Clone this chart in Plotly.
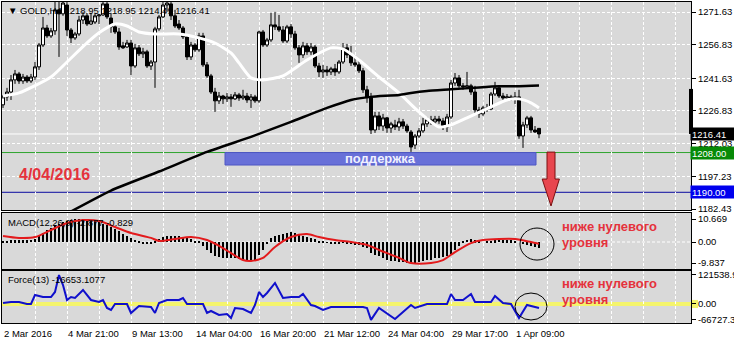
import plotly.graph_objects as go

# ---------------- data ----------------
bar_index = list(range(135))
opens = [1229.6,1233.2,1235.4,1240.9,1243.6,1240.4,1242.2,1240.4,1242.2,1246.8,
1256.7,1264.4,1260.8,1263.1,1272.6,1270.8,1274.8,1263.5,1259.9,1261.7,
1268.0,1269.9,1266.2,1267.1,1269.9,1270.3,1275.3,1268.9,1264.9,1262.6,
1256.3,1255.8,1257.6,1247.2,1255.4,1252.7,1253.6,1247.2,1249.0,1264.0,
1269.4,1274.8,1275.3,1269.9,1266.2,1264.4,1260.4,1251.3,1256.7,1254.5,
1260.8,1247.7,1242.7,1235.4,1231.4,1233.6,1232.3,1233.2,1232.3,1234.1,
1232.7,1233.6,1231.8,1233.2,1231.4,1262.6,1256.7,1259.0,1265.8,1264.9,
1263.5,1258.5,1264.9,1261.7,1255.4,1252.2,1256.3,1253.6,1255.8,1247.2,
1244.5,1245.4,1244.5,1245.9,1244.5,1249.0,1255.4,1252.2,1248.6,1247.7,
1245.0,1236.4,1233.2,1218.2,1224.6,1220.0,1223.7,1219.1,1220.5,1219.6,
1221.9,1220.0,1217.3,1211.4,1215.5,1217.8,1221.0,1222.8,1221.9,1223.2,
1222.3,1219.6,1224.1,1239.5,1241.8,1238.2,1237.7,1238.2,1235.4,1227.3,
1225.5,1228.2,1227.7,1234.5,1237.3,1233.6,1232.7,1233.2,1232.3,1233.2,
1215.5,1220.5,1223.7,1218.2,1218.95]
highs = [1234.1,1237.3,1243.1,1245.4,1244.5,1243.6,1243.1,1243.6,1249.0,1257.6,
1269.4,1265.8,1264.4,1277.1,1276.2,1277.1,1276.2,1264.4,1262.6,1269.9,
1271.7,1270.8,1271.2,1270.8,1270.8,1276.6,1277.1,1270.8,1265.8,1264.4,
1258.1,1259.0,1259.0,1257.2,1256.7,1255.4,1254.5,1249.9,1264.9,1270.3,
1276.2,1277.1,1276.6,1272.6,1268.0,1265.3,1261.3,1258.1,1257.6,1262.2,
1262.2,1249.0,1243.6,1237.3,1235.4,1234.1,1235.0,1234.5,1235.4,1235.0,
1236.4,1235.0,1234.5,1234.1,1263.1,1263.5,1259.9,1271.2,1271.7,1270.3,
1265.3,1265.8,1266.2,1263.1,1256.7,1258.1,1257.6,1257.6,1256.7,1248.6,
1247.7,1247.2,1246.8,1248.1,1249.9,1257.6,1257.2,1256.3,1250.8,1249.9,
1246.3,1238.2,1235.0,1226.4,1226.4,1225.5,1224.1,1221.9,1222.8,1223.7,
1223.2,1221.0,1218.2,1216.4,1219.1,1223.7,1224.1,1224.6,1224.6,1224.6,
1223.7,1225.5,1240.9,1244.0,1243.1,1239.5,1244.5,1239.1,1238.2,1228.7,
1229.1,1230.0,1235.4,1240.0,1238.2,1235.0,1234.5,1234.1,1235.4,1236.4,
1221.9,1224.6,1224.6,1220.0,1218.95]
lows = [1228.2,1231.4,1231.8,1239.1,1239.1,1239.1,1239.5,1239.5,1240.9,1245.4,
1255.8,1259.9,1259.9,1261.3,1251.3,1269.9,1260.8,1257.6,1259.0,1260.8,
1266.2,1265.3,1265.8,1266.2,1266.2,1269.9,1268.5,1262.2,1261.7,1254.5,
1254.9,1255.4,1243.1,1246.3,1251.7,1250.8,1246.3,1245.4,1237.3,1263.1,
1268.9,1271.7,1268.0,1264.4,1263.5,1259.4,1249.9,1249.9,1253.6,1253.6,
1246.8,1241.8,1234.5,1226.4,1230.0,1230.0,1230.9,1228.7,1231.8,1231.4,
1231.8,1230.5,1228.2,1230.5,1230.5,1255.8,1255.8,1258.1,1263.5,1262.6,
1257.6,1257.6,1259.9,1254.5,1248.6,1250.8,1252.2,1252.2,1246.3,1242.2,
1241.8,1242.7,1243.1,1242.7,1243.6,1248.1,1250.8,1247.2,1246.8,1244.0,
1235.0,1230.5,1216.4,1216.9,1218.2,1217.8,1216.9,1216.9,1218.2,1217.8,
1218.7,1216.9,1208.3,1209.6,1214.6,1216.9,1219.6,1220.5,1220.5,1221.0,
1218.2,1217.3,1223.2,1238.2,1237.3,1236.4,1236.8,1234.1,1225.9,1223.7,
1224.6,1226.4,1227.3,1233.6,1232.7,1231.8,1231.4,1231.4,1230.0,1214.2,
1210.1,1219.1,1216.9,1216.9,1214.49]
closes = [1233.2,1235.4,1240.9,1243.6,1240.4,1242.2,1240.4,1242.2,1246.8,1256.7,
1264.4,1260.8,1263.1,1272.6,1270.8,1275.7,1263.5,1259.9,1261.7,1268.0,
1269.9,1266.2,1267.6,1269.9,1270.3,1275.3,1269.4,1264.9,1262.6,1255.8,
1255.4,1257.6,1247.2,1255.4,1252.7,1253.6,1247.2,1249.0,1264.0,1269.4,
1274.8,1275.7,1269.9,1265.3,1264.4,1260.4,1251.3,1256.7,1254.5,1260.8,
1247.7,1242.7,1235.4,1231.4,1233.6,1232.3,1233.2,1232.3,1234.1,1232.7,
1233.6,1231.8,1233.2,1231.4,1262.6,1256.7,1259.0,1265.8,1264.9,1263.5,
1258.5,1264.9,1261.7,1255.4,1252.2,1256.3,1253.6,1255.8,1247.2,1244.5,
1245.4,1244.5,1245.9,1244.5,1249.0,1255.4,1252.2,1248.6,1247.7,1245.0,
1236.4,1233.2,1218.2,1224.6,1220.0,1223.7,1219.1,1221.0,1219.6,1221.9,
1220.0,1217.8,1210.5,1215.5,1217.8,1221.0,1222.8,1221.9,1223.2,1222.3,
1219.6,1224.1,1239.5,1241.8,1238.2,1237.7,1238.2,1235.4,1227.3,1225.5,
1228.2,1227.7,1234.5,1237.3,1233.6,1232.7,1233.2,1232.3,1233.2,1215.5,
1220.5,1223.7,1218.2,1217.3,1216.41]

white_ma_idx = [0, 4, 12, 16, 21, 24, 28, 31, 34, 38, 44, 49, 53, 57, 59, 62, 65, 70, 76, 82, 85, 89, 94, 99, 104, 109, 112, 116, 122, 126, 129, 132, 134]
white_ma_val = [1233.6, 1235.0, 1242.2, 1249.0, 1257.6, 1262.2, 1266.2, 1265.3, 1262.6, 1261.7, 1261.7, 1259.9, 1257.6, 1253.1, 1248.6, 1241.8, 1240.9, 1242.7, 1249.9, 1255.4, 1254.9, 1249.9, 1242.2, 1235.0, 1226.4, 1219.6, 1220.5, 1223.7, 1228.7, 1231.8, 1232.3, 1230.5, 1228.2]

black_ma_idx = [0, 18, 27, 39, 51, 62, 72, 81, 87, 92, 99, 102, 106, 112, 119, 124, 129, 134]
black_ma_val = [1164.3, 1182.3, 1190.8, 1199.4, 1208.3, 1215.1, 1221.9, 1228.2, 1231.8, 1233.2, 1234.1, 1235.0, 1235.9, 1236.6, 1237.5, 1238.0, 1238.0, 1238.3]

macd_hist = [0.5,0.7,0.9,0.9,0.9,0.9,0.9,1.1,1.4,2.8,
4.2,5.6,6.7,7.7,8.6,9.3,9.9,10.2,10.5,10.6,
10.669,10.6,10.2,9.8,9.3,8.6,7.7,7.0,6.0,4.9,
3.9,2.8,1.9,1.1,0.5,-0.5,-0.9,-0.7,0.2,1.4,
2.3,2.8,2.8,2.8,2.6,2.1,1.7,1.2,0.7,0.2,
-1.9,-3.5,-5.1,-6.3,-7.0,-7.3,-7.4,-7.4,-7.6,-7.9,
-8.4,-8.4,-8.6,-8.4,-6.0,-3.7,-0.9,1.9,2.8,3.3,
3.7,4.2,4.7,4.2,3.5,2.8,2.3,1.9,1.4,0.7,
0.3,-0.3,-0.5,-0.5,-0.5,-0.3,-0.7,-0.9,-1.2,-1.4,
-2.3,-2.8,-5.1,-6.0,-6.3,-7.4,-8.4,-8.6,-8.9,-9.3,
-9.5,-9.6,-9.837,-9.7,-9.3,-8.8,-8.4,-8.2,-7.6,-7.3,
-7.0,-6.5,-5.6,-3.7,-1.9,0.5,1.1,1.4,0.9,0.3,
0.0,0.3,0.5,0.9,1.1,0.9,0.9,0.9,0.7,0.0,
-0.7,-1.4,-1.9,-2.3,-2.877]

signal_idx = [0, 4, 8, 12, 16, 20, 24, 28, 32, 37, 39, 43, 47, 51, 55, 60, 62, 65, 68, 72, 76, 79, 83, 87, 91, 94, 99, 102, 107, 110, 113, 117, 120, 124, 128, 132, 134]
signal_val = [2.8, 1.9, 2.3, 5.6, 8.8, 10.2, 9.8, 7.0, 4.2, 1.9, 0.5, 1.4, 2.3, 0.9, -2.8, -8.4, -8.8, -7.4, -2.3, 2.3, 3.7, 2.3, 0.9, 0.0, -1.4, -3.7, -7.4, -9.8, -9.8, -8.4, -4.7, -0.5, 0.9, 1.4, 1.4, 0.0, -0.829]

force_idx = [0,2,4,6,7,8,10,12,13,14,15,16,17,18,20,22,24,25,26,27,28,31,32,34,37,38,39,41,44,45,46,50,51,52,54,56,57,58,60,62,63,64,65,66,68,70,72,74,75,77,78,80,82,85,88,90,91,92,94,95,98,100,102,103,105,106,111,112,113,115,117,118,120,122,123,125,127,129,131,132,134]
force_val = [4191,8400,8400,0,0,37700,29300,29300,50300,121538.9,79600,16800,29300,25100,58700,16800,8400,16800,-16800,-25100,0,0,-37700,-8400,-12600,-37700,4200,16800,16800,25100,0,0,-37700,-29300,-46100,-41900,-58700,-16800,-21000,-37700,-4200,50300,29300,46100,88000,25100,29300,29300,41900,-4200,-8400,-25100,-12600,-12600,-12600,-12600,-16800,-66727.34,-16800,-29300,-62900,-33500,-4200,-16800,-4200,0,0,41900,16800,16800,41900,8400,8400,8400,33500,4200,0,-58700,-4200,-8400,-16653.1077]

price_ticks = [1271.63, 1256.83, 1241.63, 1226.83, 1212.03, 1197.23, 1182.43]
price_tick_text = ["1271.63", "1256.83", "1241.63", "1226.83", "1212.03", "1197.23", "1182.43"]
macd_ticks = [10.669, 0.0, -9.837]
macd_tick_text = ["10.669", "0.00", "-9.837"]
force_ticks = [121538.9, 0.0, -66727.34]
force_tick_text = ["121538.96", "0.00", "-66727.34"]

xlabel_idx = [0, 16, 32, 48, 64, 80, 96, 112, 128]
xlabel_text = ["2 Mar 2016", "4 Mar 21:00", "9 Mar 13:00", "14 Mar 04:00", "16 Mar 20:00",
               "21 Mar 12:00", "24 Mar 04:00", "29 Mar 17:00", "1 Apr 09:00"]
grid_idx = list(range(8, 172, 8))

last_price = 1216.41
support_level = 1208.00
target_level = 1190.00
support_zone = (55.5, 133.25, 1202.35, 1208.0)

# ---------------- layout geometry ----------------
W, H = 734, 344
ML, MR, MT, MB = 2, 43, 2, 21
PW = W - ML - MR
PH = H - MT - MB
FONT = "Liberation Sans, Arial, sans-serif"
BG = "#D9D9D9"
RED_TXT = "#E5323C"


def px(x=None, y=None):
    fx = None if x is None else (x - ML) / PW
    fy = None if y is None else (H - MB - y) / PH
    return fx, fy


fig = go.Figure()

fig.add_trace(go.Candlestick(
    x=bar_index, open=opens, high=highs, low=lows, close=closes,
    increasing=dict(fillcolor="white", line=dict(color="black", width=1)),
    decreasing=dict(fillcolor="black", line=dict(color="black", width=1)),
    whiskerwidth=0, xaxis="x", yaxis="y", showlegend=False, hoverinfo="skip"))

fig.add_trace(go.Scatter(x=white_ma_idx, y=white_ma_val, mode="lines",
                         line=dict(color="white", width=3, shape="spline", smoothing=0.6),
                         xaxis="x", yaxis="y", showlegend=False, hoverinfo="skip"))
fig.add_trace(go.Scatter(x=black_ma_idx, y=black_ma_val, mode="lines",
                         line=dict(color="black", width=2.5, shape="spline", smoothing=0.5),
                         xaxis="x", yaxis="y", showlegend=False, hoverinfo="skip"))

fig.add_trace(go.Bar(x=bar_index, y=macd_hist, width=0.25,
                     marker=dict(color="black", line=dict(width=0)),
                     xaxis="x2", yaxis="y2", showlegend=False, hoverinfo="skip"))
fig.add_trace(go.Scatter(x=signal_idx, y=signal_val, mode="lines",
                         line=dict(color="#E31A1C", width=2, shape="spline", smoothing=0.8),
                         xaxis="x2", yaxis="y2", showlegend=False, hoverinfo="skip"))

fig.add_trace(go.Scatter(x=force_idx, y=force_val, mode="lines",
                         line=dict(color="#1010CC", width=2),
                         xaxis="x3", yaxis="y3", showlegend=False, hoverinfo="skip"))

xcommon = dict(range=[-0.25, 172], showticklabels=False, tickvals=grid_idx, ticks="",
               showgrid=True, gridcolor="white", griddash="3px,2px", gridwidth=1,
               showline=True, mirror=True, linecolor="black", linewidth=1, zeroline=False,
               automargin=False)
ycommon = dict(side="right", ticks="outside", ticklen=4, tickcolor="black",
               showline=True, mirror=True, linecolor="black", linewidth=1, zeroline=False,
               automargin=False,
               tickfont=dict(family=FONT, size=9.5, color="black"))

fig.update_layout(
    width=W, height=H, margin=dict(l=ML, r=MR, t=MT, b=MB, autoexpand=False),
    paper_bgcolor="white", plot_bgcolor=BG, showlegend=False,
    boxgap=0, boxgroupgap=0.25, bargap=0,
    xaxis=dict(**xcommon, anchor="y", domain=[0, 1], rangeslider=dict(visible=False)),
    xaxis2=dict(**xcommon, anchor="y2", domain=[0, 1], matches="x"),
    xaxis3=dict(**xcommon, anchor="y3", domain=[0, 1], matches="x"),
    yaxis=dict(**ycommon, domain=[0.352, 1.0], range=[1181.98, 1276.16],
               tickvals=price_ticks, ticktext=price_tick_text,
               showgrid=True, gridcolor="white", griddash="3px,2px", gridwidth=1),
    yaxis2=dict(**ycommon, domain=[0.1682, 0.3427], range=[-12.56, 13.49],
                tickvals=macd_ticks, ticktext=macd_tick_text, showgrid=False),
    yaxis3=dict(**ycommon, domain=[0.0, 0.162], range=[-79630, 138300],
                tickvals=force_ticks, ticktext=force_tick_text, showgrid=False),
)

shapes = []
shapes.append(dict(type="line", xref="x", yref="y", x0=-0.25, x1=172, y0=last_price, y1=last_price,
                   line=dict(color="white", width=1), layer="below"))
shapes.append(dict(type="line", xref="x", yref="y", x0=-0.25, x1=172, y0=support_level, y1=support_level,
                   line=dict(color="#2FA52F", width=1), layer="below"))
shapes.append(dict(type="line", xref="x", yref="y", x0=-0.25, x1=172, y0=target_level, y1=target_level,
                   line=dict(color="#0A0AA0", width=1), layer="below"))
x0, x1, y0, y1 = support_zone
shapes.append(dict(type="rect", xref="x", yref="y", x0=x0, x1=x1, y0=y0, y1=y1,
                   fillcolor="#6870D8", line=dict(color="#4E56C4", width=1), layer="above"))
shapes.append(dict(type="path", xref="x", yref="y",
                   path="M 136,1208.2 L 138,1208.2 L 138,1196.0 L 139.1,1196.0 L 137,1183.8 "
                        "L 134.8,1196.0 L 136,1196.0 Z",
                   fillcolor="#E8464E", line=dict(color="#7A1010", width=1), layer="above"))
shapes.append(dict(type="line", xref="x2", yref="y2", x0=-0.25, x1=172, y0=0, y1=0,
                   line=dict(color="white", width=1, dash="3px,2px"), layer="below"))
shapes.append(dict(type="line", xref="x3", yref="y3", x0=-0.25, x1=172, y0=0, y1=0,
                   line=dict(color="#F4F46C", width=4), layer="below"))
fx0, _ = px(x=691)
fx1, _ = px(x=698)
shapes.append(dict(type="rect", xref="paper", yref="y3", x0=fx0, x1=fx1, y0=-17000, y1=17000,
                   fillcolor="#F4F46C", line=dict(width=0), layer="below"))
bx0, _ = px(x=689)
bx1, _ = px(x=693)
shapes.append(dict(type="rect", xref="paper", yref="y", x0=bx0, x1=bx1, y0=last_price, y1=1236.8,
                   fillcolor="black", line=dict(width=0), layer="above"))
shapes.append(dict(type="circle", xref="x2", yref="y2", x0=129.25, x1=137.75, y0=-8.4, y1=6.5,
                   line=dict(color="black", width=1)))
shapes.append(dict(type="circle", xref="x3", yref="y3", x0=128, x1=136, y0=-67000, y1=46000,
                   line=dict(color="black", width=1)))
fig.update_layout(shapes=shapes)

ann = []


def text_px(x, y, text, size=9.5, color="black", bold=False, anchor="left"):
    fx, fy = px(x, y)
    t = f"<b>{text}</b>" if bold else text
    ann.append(dict(xref="paper", yref="paper", x=fx, y=fy, text=t, showarrow=False,
                    xanchor=anchor, yanchor="middle",
                    font=dict(family=FONT, size=size, color=color)))


text_px(6, 10, "▼ GOLD,H4 1218.95 1218.95 1214.49 1216.41")
text_px(6, 222, "MACD(12,26,9) -2.877 -0.829")
text_px(6, 279, "Force(13) -16653.1077")
text_px(17, 174, "4/04/2016", size=16, color=RED_TXT, bold=True)
text_px(560, 226, "ниже нулевого", size=13, color=RED_TXT, bold=True)
text_px(560, 242, "уровня", size=13, color=RED_TXT, bold=True)
text_px(560, 283, "ниже нулевого", size=13, color=RED_TXT, bold=True)
text_px(560, 299, "уровня", size=13, color=RED_TXT, bold=True)

ann.append(dict(xref="x", yref="y", x=(x0 + x1) / 2, y=(y0 + y1) / 2, text="<b>поддержка</b>",
                showarrow=False, font=dict(family=FONT, size=13, color="#F0F0FF")))

_, ly = px(y=333)
for i, t in zip(xlabel_idx, xlabel_text):
    ann.append(dict(xref="x3", yref="paper", x=i, y=ly, text=t, showarrow=False,
                    xanchor="left", yanchor="middle", xshift=-1,
                    font=dict(family=FONT, size=9.5, color="black")))

lx, _ = px(x=690)
for val, txt, bg in [(last_price, "1216.41", "black"), (support_level, "1208.00", "#078A07"),
                     (target_level, "1190.00", "#0000EE")]:
    ann.append(dict(xref="paper", yref="y", x=lx, y=val, text=txt, showarrow=False,
                    xanchor="left", yanchor="middle", bgcolor=bg, borderpad=1,
                    width=42, height=10, align="left",
                    font=dict(family=FONT, size=9.5, color="white")))

fig.update_layout(annotations=ann)
fig.write_html("out.html")
